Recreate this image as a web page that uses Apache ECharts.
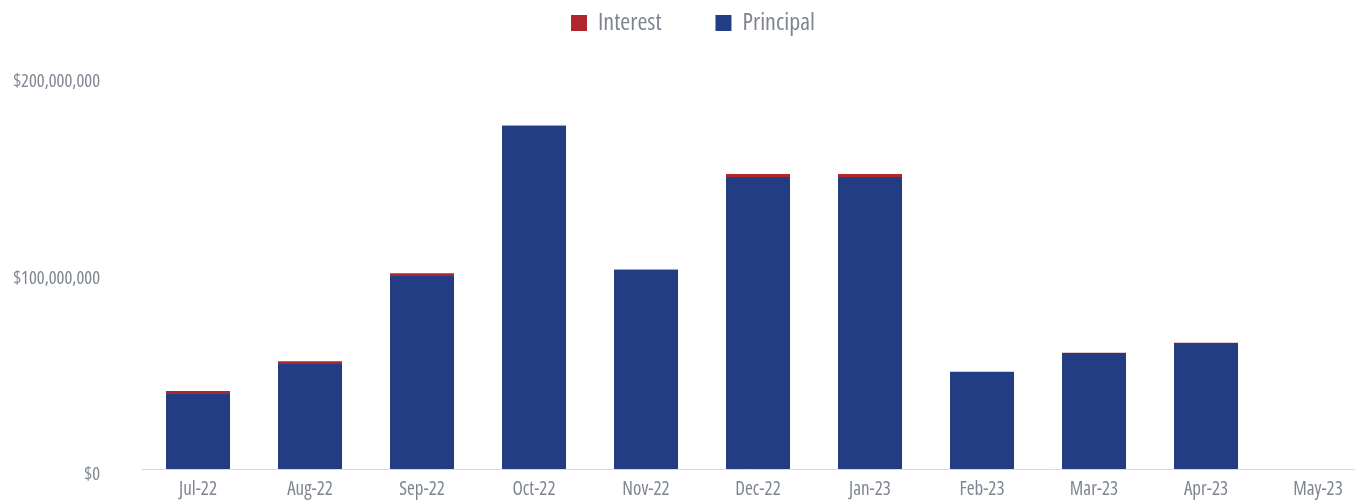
<!DOCTYPE html>
<html>
<head>
<meta charset="utf-8">
<script src="https://cdn.jsdelivr.net/npm/echarts@6/dist/echarts.min.js"></script>
<style>
  html, body { margin: 0; padding: 0; background: #fff; }
  #chart { width: 1355px; height: 502px; }
</style>
</head>
<body>
<div id="chart"></div>
<script>
// data
const months = ['Jul-22', 'Aug-22', 'Sep-22', 'Oct-22', 'Nov-22', 'Dec-22', 'Jan-23', 'Feb-23', 'Mar-23', 'Apr-23', 'May-23'];
const principal = [38.2, 53.4, 98.2, 174.6, 101.3, 148.6, 148.6, 49.4, 59.0, 64.1, 0];
const interest = [1.5, 1.4, 1.4, 0.2, 0.2, 1.5, 1.5, 0.1, 0.1, 0.1, 0];
const yTicks = [0, 100, 200]; // millions

const font = "'Open Sans', sans-serif";
const grey = '#7f8590';

const chart = echarts.init(document.getElementById('chart'));
chart.setOption({
  animation: false,
  legend: {
    data: ['Interest', 'Principal'],
    top: 6,
    left: 566,
    itemWidth: 16,
    itemHeight: 16,
    itemGap: 54,
    icon: 'rect',
    textStyle: { color: grey, fontSize: 24, fontFamily: font, fontStyle: 'condensed', padding: [0, 0, 0, 6] }
  },
  grid: { left: 142, width: 1232, top: 76, bottom: 33, outerBoundsMode: 'none' },
  xAxis: {
    type: 'category',
    data: months,
    axisLine: { lineStyle: { color: '#d9d9d9', width: 1 } },
    axisTick: { show: false },
    axisLabel: { color: grey, fontSize: 19, margin: 11, fontFamily: font, fontStyle: 'condensed' }
  },
  yAxis: {
    type: 'value',
    min: yTicks[0],
    max: yTicks[yTicks.length - 1],
    interval: yTicks[1] - yTicks[0],
    splitLine: { show: false },
    axisLine: { show: false },
    axisTick: { show: false },
    axisLabel: {
      color: grey,
      fontSize: 18.5,
      margin: 42,
      verticalAlign: 'top',
      lineHeight: 12,
      fontFamily: font,
      fontStyle: 'condensed',
      formatter: v => v === 0 ? '$0' : '$' + (v * 1e6).toLocaleString('en-US')
    }
  },
  series: [
    {
      name: 'Principal',
      type: 'bar',
      stack: 'total',
      barWidth: 64,
      data: principal,
      itemStyle: { color: '#233d85' }
    },
    {
      name: 'Interest',
      type: 'bar',
      stack: 'total',
      barWidth: 64,
      data: interest,
      itemStyle: { color: '#b0262d' }
    }
  ]
});
window.addEventListener('resize', () => chart.resize());
</script>
</body>
</html>
